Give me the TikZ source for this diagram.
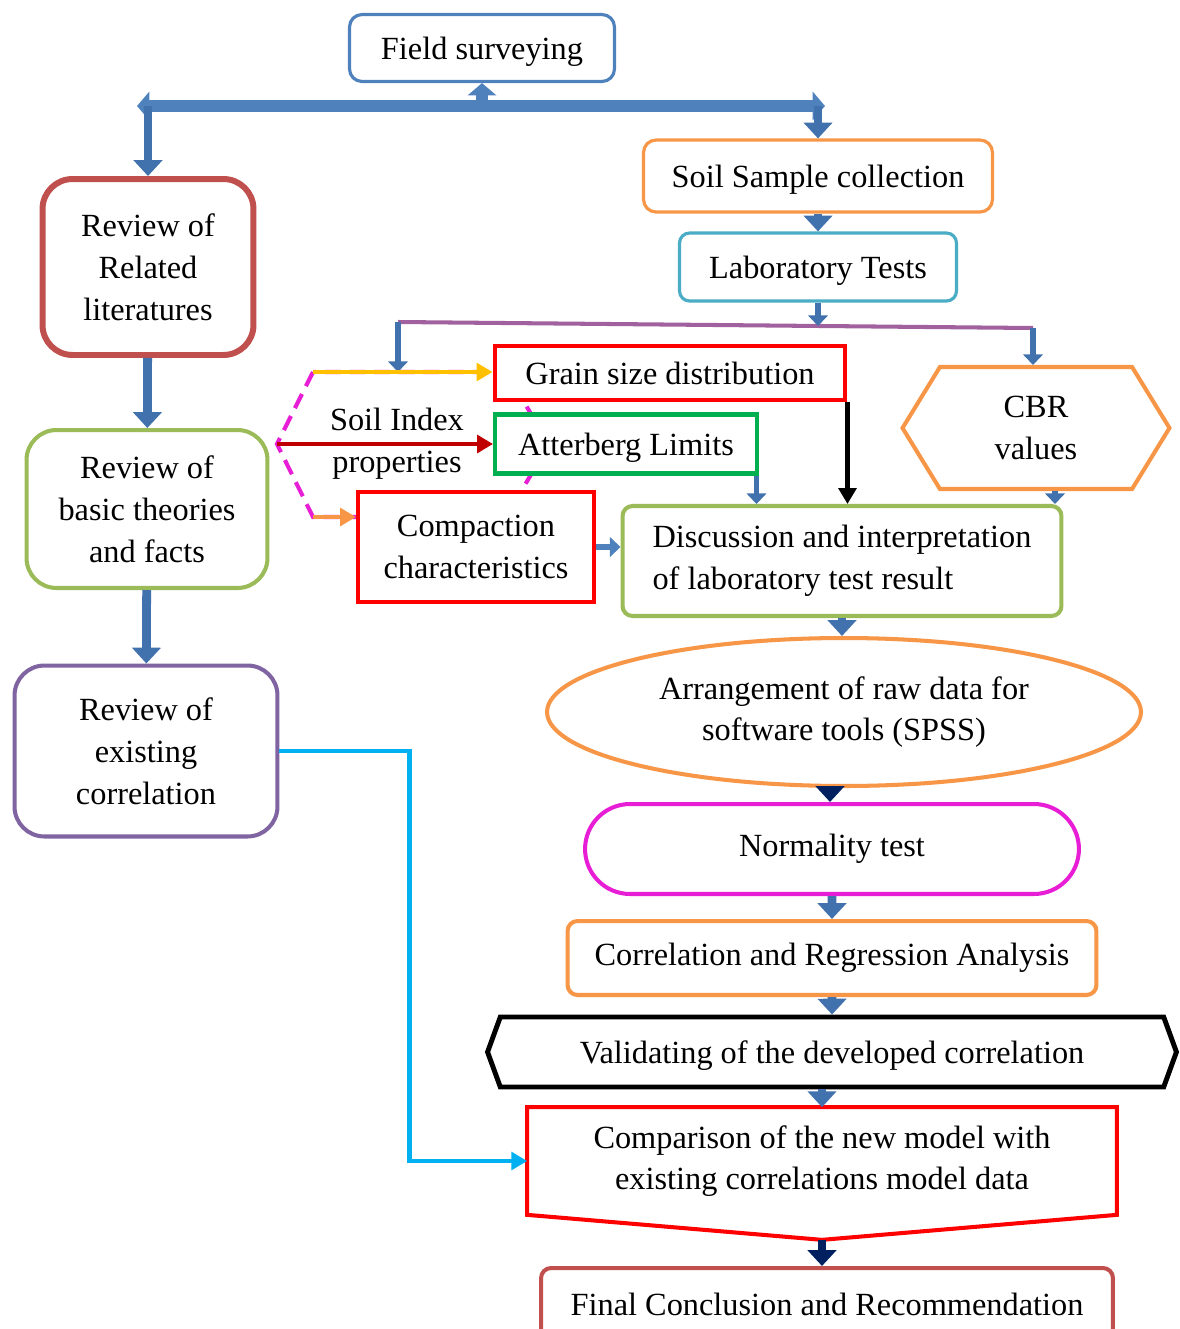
\documentclass[tikz,border=0pt]{standalone}
\usepackage{fontspec}
\setmainfont{Liberation Serif}
\usetikzlibrary{arrows.meta,shapes.geometric,shapes.misc,shapes.symbols}
\definecolor{blueA}{HTML}{4F81BD}
\definecolor{blkblue}{HTML}{4272AD}
\definecolor{redA}{HTML}{C0504D}
\definecolor{greenA}{HTML}{9BBB59}
\definecolor{purpleA}{HTML}{8064A2}
\definecolor{orangeA}{HTML}{F79646}
\definecolor{cyanA}{HTML}{4BACC6}
\definecolor{redB}{HTML}{FF0000}
\definecolor{greenB}{HTML}{00B050}
\definecolor{magentaA}{HTML}{E81ED6}
\definecolor{yellowA}{HTML}{FFC000}
\definecolor{darkredA}{HTML}{C00000}
\definecolor{navyA}{HTML}{002060}
\definecolor{skyA}{HTML}{00B0F0}
\definecolor{plineA}{HTML}{A0619E}

\begin{document}
\begin{tikzpicture}[x=0.02cm,y=-0.02cm,
    font=\fontsize{18.4}{23.8}\selectfont,
    box/.style={draw,fill=white,align=center,inner sep=2pt,line width=2.3pt},
    oneline/.style={text depth=0pt},
    bar/.style={draw=blueA,line width=6.5pt},
    blk/.style={draw=blkblue,line width=5pt,-{Triangle[length=9pt,width=16pt]}},
    smallblk/.style={draw=blkblue,line width=3.2pt,-{Triangle[length=6pt,width=11pt]}},
    colarr/.style={line width=2.3pt,-{Triangle[length=9pt,width=10pt]}}]
    \clip (0,0) rectangle (1180,1329);

    \node[box,oneline,draw=blueA,line width=1.8pt,rounded corners=0.25cm,minimum width=5.3cm,minimum height=1.34cm] (fs) at (482,48) {Field surveying};
    \node[box,draw=redA,line width=3.4pt,rounded corners=0.6cm,minimum width=4.22cm,minimum height=3.52cm] (rel) at (148,267) {Review of\\Related\\literatures};
    \node[box,draw=greenA,rounded corners=0.6cm,minimum width=4.82cm,minimum height=3.16cm] (bas) at (147,509) {Review of\\basic theories\\and facts};
    \node[box,draw=purpleA,rounded corners=0.6cm,minimum width=5.26cm,minimum height=3.42cm] (exi) at (146,751) {Review of\\existing\\correlation};
    \node[box,oneline,draw=orangeA,line width=1.8pt,rounded corners=0.25cm,minimum width=6.98cm,minimum height=1.44cm] (soil) at (818,176) {Soil Sample collection};
    \node[box,oneline,draw=cyanA,line width=1.8pt,rounded corners=0.2cm,minimum width=5.54cm,minimum height=1.36cm] (lab) at (818,267) {Laboratory Tests};

    \coordinate (bl) at (137,106);
    \coordinate (br) at (825,106);
    \coordinate (bm) at (482,106);
    \coordinate (pl) at (398,322);
    \coordinate (pr) at (1033,328);
    \coordinate (pm) at (818,326);
    \coordinate (ht) at (313,372);
    \coordinate (hl) at (277,444);
    \coordinate (hb) at (313,517);

    \draw[magentaA,dashed,line width=2.3pt,dash pattern=on 9pt off 5pt] (ht) -- (hl) -- (hb) -- (506,517) -- (549,444) -- (506,372) -- cycle;
    \node[align=center] (sip) at (397,444) {Soil Index\\properties};

    \node[box,oneline,draw=redB,minimum width=7.02cm,minimum height=1.08cm] (grain) at (670,373) {Grain size distribution};
    \node[box,oneline,draw=greenB,minimum width=5.24cm,minimum height=1.18cm] (att) at (626,444) {Atterberg Limits};
    \node[box,draw=redB,minimum width=4.72cm,minimum height=2.2cm] (comp) at (476,547) {Compaction\\characteristics};
    \node[box,draw=orangeA,signal,signal to=west and east,signal pointer angle=117,minimum width=5.34cm,minimum height=2.44cm] (cbr) at (1036,428) {CBR\\values};
    \node[box,draw=greenA,align=left,rounded corners=0.2cm,minimum width=8.78cm,minimum height=2.2cm] (dis) at (842,561) {Discussion and interpretation\\of laboratory test result};
    \node[box,draw=orangeA,ellipse,minimum width=11.88cm,minimum height=2.96cm] (arr) at (844,712) {Arrangement of raw data for\\software tools (SPSS)};
    \node[box,draw=magentaA,rounded rectangle,minimum width=10.02cm,minimum height=1.8cm] (norm) at (832,849) {Normality test};
    \node[box,draw=orangeA,rounded corners=0.2cm,minimum width=10.58cm,minimum height=1.48cm] (corr) at (832,958) {Correlation and Regression Analysis};
    \node[box,oneline,draw=black,line width=2.8pt,signal,signal to=west and east,signal pointer angle=140,minimum width=13.78cm,minimum height=1.4cm] (val) at (832,1052) {Validating of the developed correlation};
    \node[align=center,minimum width=11.78cm,minimum height=2.14cm] (cmp) at (822,1161) {Comparison of the new model with\\existing correlations model data};
    \draw[redB,line width=2.3pt] (cmp.north west) -- (cmp.north east) -- (cmp.south east) -- ([yshift=-0.5cm]cmp.south) -- (cmp.south west) -- cycle;
    \coordinate (cpt) at ([yshift=-0.5cm]cmp.south);
    \node[box,draw=redA,rounded corners=0.2cm,minimum width=11.44cm,minimum height=1.44cm] (fin) at (827,1304) {Final Conclusion and Recommendation};

    \draw[bar,{Triangle[length=7pt,width=16pt]}-{Triangle[length=7pt,width=16pt]}] (bl) -- (br);
    \draw[bar,-{Triangle[length=7pt,width=16pt]}] (bm) -- (fs.south);
    \draw[blk] (rel.north |- bl) -- (rel.north);
    \draw[blk] (soil.north |- br) -- (soil.north);
    \draw[blk] (soil) -- (lab);
    \draw[blk] (rel) -- (bas);
    \draw[blk] (bas) -- (exi);

    \draw[plineA,line width=2.3pt] (pl) -- (pr);
    \draw[smallblk] (lab) -- (pm);
    \draw[smallblk] (pl) -- (pl |- ht);
    \draw[smallblk] (pr) -- (pr |- cbr.north);

    \draw[colarr,yellowA] (ht) -- (ht -| grain.west);
    \draw[colarr,darkredA] (hl) -- (hl -| att.west);
    \draw[colarr,orangeA] (hb) -- (hb -| comp.west);

    \draw[colarr,black] (grain.south east) -- (grain.south east |- dis.north);
    \coordinate (ae) at ([xshift=-0.05cm]att.south east);
    \draw[smallblk] (ae) -- (ae |- dis.north);
    \coordinate (ce) at ([xshift=0.38cm]cbr.south);
    \draw[smallblk] (ce) -- (ce |- dis.north);
    \draw[smallblk,blueA] (comp.east) -- (comp.east -| dis.west);

    \draw[blk] (dis.south) -- (dis.south |- arr.north);
    \coordinate (as) at ([xshift=-0.28cm]arr.south);
    \draw[blk,navyA] (as) -- (as |- norm.north);
    \draw[blk] (norm) -- (corr);
    \draw[blk] (corr) -- (val);
    \draw[blk] (cmp.north |- val.south) -- (cmp.north);
    \draw[blk,navyA] (cpt) -- (cpt |- fin.north);

    \draw[colarr,skyA] (exi.east) -- ++(130,0) |- (cmp.west);
\end{tikzpicture}
\end{document}
